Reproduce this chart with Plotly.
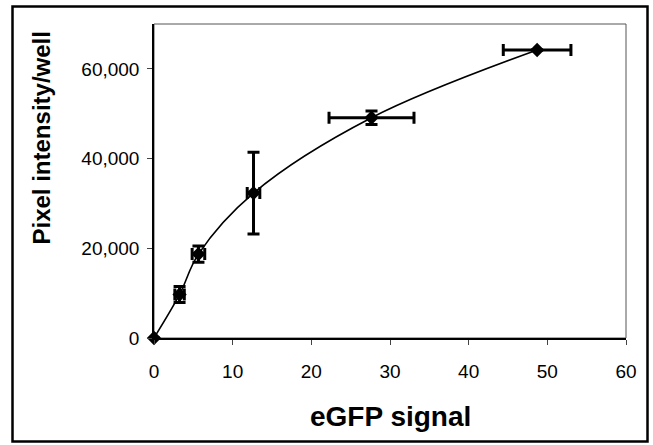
import plotly.graph_objects as go

# Data
egfp_signal = [0, 3.25, 5.65, 12.65, 27.65, 48.7]
pixel_intensity = [0, 9700, 18700, 32300, 49100, 64200]
egfp_err = [0, 0.6, 0.8, 0.8, 5.4, 4.3]
pixel_err = [0, 1800, 1800, 9100, 1500, 0]

x_ticks = [0, 10, 20, 30, 40, 50, 60]
y_ticks = [0, 20000, 40000, 60000]
y_tick_labels = ["0", "20,000", "40,000", "60,000"]

fig = go.Figure()

# smooth connecting line
fig.add_trace(go.Scatter(
    x=egfp_signal, y=pixel_intensity, mode="lines",
    line=dict(color="black", width=1.6, shape="spline", smoothing=1.0),
    hoverinfo="skip", showlegend=False, cliponaxis=False,
))

# markers with error bars
fig.add_trace(go.Scatter(
    x=egfp_signal, y=pixel_intensity, mode="markers",
    marker=dict(symbol="diamond", size=11, color="black"),
    error_x=dict(type="data", array=egfp_err, visible=True, color="black", thickness=3, width=6),
    error_y=dict(type="data", array=pixel_err, visible=True, color="black", thickness=3, width=6),
    showlegend=False, cliponaxis=False,
))

L, R, T, B = 154, 27, 24, 107
W, H = 653, 445
pw, ph = W - L - R, H - T - B

def px_x(p):
    return (p - L) / pw

def px_y(p):
    return (H - B - p) / ph

fig.update_layout(
    width=W, height=H,
    margin=dict(l=L, r=R, t=T, b=B, pad=0),
    paper_bgcolor="white", plot_bgcolor="white",
    font=dict(family="Liberation Sans, Arial, sans-serif", color="black"),
    xaxis=dict(
        range=[0, 60], tickvals=x_ticks, showgrid=False, zeroline=False,
        showline=True, linecolor="black", linewidth=1.5,
        ticks="outside", ticklen=5, tickwidth=1, tickcolor="#444",
        tickfont=dict(size=19, color="black"), ticklabelstandoff=10,
    ),
    yaxis=dict(
        range=[0, 70000], tickvals=y_ticks, ticktext=y_tick_labels,
        showgrid=False, zeroline=False,
        showline=True, linecolor="black", linewidth=1.5,
        ticks="outside", ticklen=5, tickwidth=1, tickcolor="#444",
        tickfont=dict(size=19, color="black"), ticklabelstandoff=4,
    ),
    shapes=[
        # plot-area frame (thin grey top/right)
        dict(type="rect", xref="paper", yref="paper", x0=0, x1=1, y0=0, y1=1,
             line=dict(color="#555", width=1), layer="below"),
        # outer border of the figure
        dict(type="rect", xref="paper", yref="paper",
             x0=px_x(12.5), x1=px_x(647.5), y0=px_y(441.5), y1=px_y(6.5),
             line=dict(color="black", width=2.5)),
    ],
    annotations=[
        dict(text="<b>Pixel intensity/well</b>", textangle=-90,
             xref="paper", yref="paper", x=px_x(41), y=px_y(138.5),
             xanchor="center", yanchor="middle", showarrow=False,
             font=dict(size=24, color="black")),
        dict(text="<b>eGFP signal</b>",
             xref="paper", yref="paper", x=0.5, y=px_y(416),
             xanchor="center", yanchor="middle", showarrow=False,
             font=dict(size=28, color="black")),
    ],
)

fig.write_html(
    "out.html",
    config={"displayModeBar": False},
    post_script="document.body.style.margin='0';document.body.style.overflow='hidden';",
)
